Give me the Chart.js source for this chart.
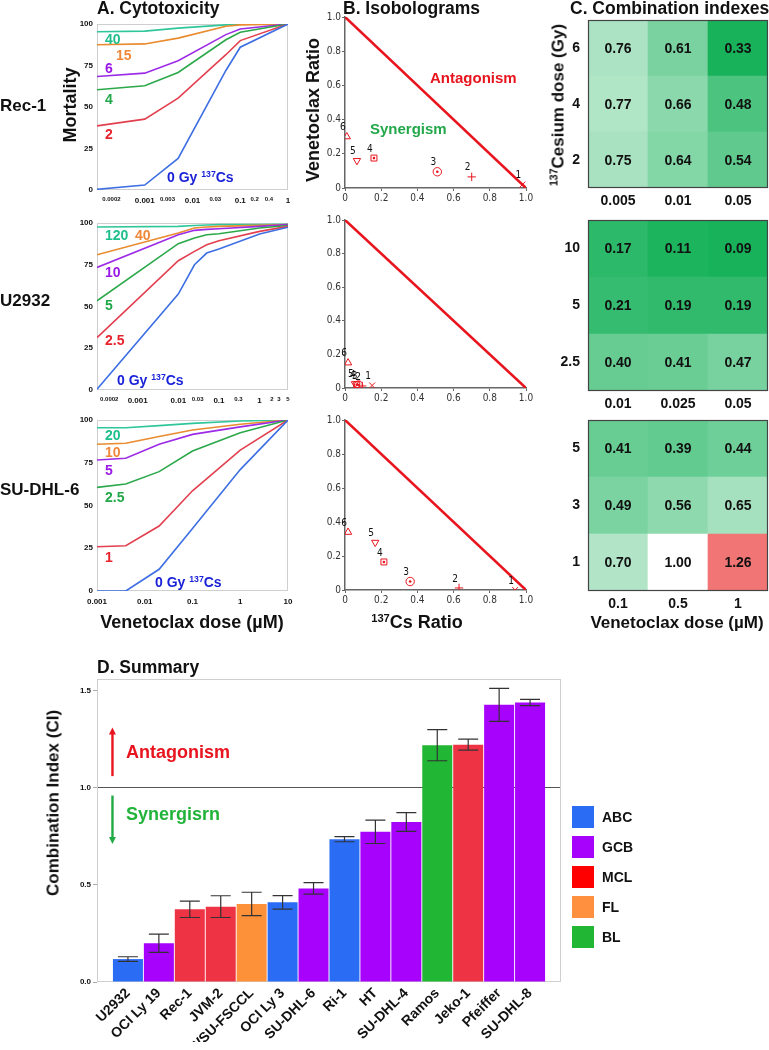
<!DOCTYPE html>
<html>
<head>
<meta charset="utf-8">
<script src="https://cdn.jsdelivr.net/npm/chart.js@4.4.1/dist/chart.umd.min.js"></script>
<style>
  body { margin: 0; background: #fff; }
  #page { position: relative; width: 769px; height: 1050px; overflow: hidden;
          font-family: 'Liberation Sans', Arial, sans-serif; font-weight: bold; color: #111; }
  canvas { position: absolute; left: 0; top: 0; }
  .t { position: absolute; white-space: nowrap; line-height: 1; z-index: 10; }
  .rot { transform: translate(-50%, -50%) rotate(-90deg); }
  .ctr { transform: translate(-50%, -50%); }
  .h16 { font-size: 17.5px; }
  .h17 { font-size: 17px; }
  .h18 { font-size: 18px; }
  .lb { font-size: 14px; }
  sup { font-size: 0.62em; vertical-align: 0.55em; line-height: 0; }
  .sw { position: absolute; width: 22px; height: 22px; z-index: 10; }
</style>
</head>
<body>
<div id="page">
  <!-- panel titles -->
  <div class="t h16" style="left:97px;top:0px">A. Cytotoxicity</div>
  <div class="t h16" style="left:343px;top:0px">B. Isobolograms</div>
  <div class="t h16" style="left:570px;top:0px">C. Combination indexes</div>
  <div class="t h16" style="left:97px;top:659px">D. Summary</div>

  <!-- row labels -->
  <div class="t h17" style="left:0px;top:97px">Rec-1</div>
  <div class="t h17" style="left:0px;top:292px">U2932</div>
  <div class="t h17" style="left:0px;top:481px">SU-DHL-6</div>

  <!-- axis titles -->
  <div class="t h18 rot" style="left:70px;top:105px">Mortality</div>
  <div class="t h18 rot" style="left:313px;top:110px">Venetoclax Ratio</div>
  <div class="t h17 rot" style="left:558px;top:105px"><sup>137</sup>Cesium dose (Gy)</div>
  <div class="t h18 ctr" style="left:192px;top:622px">Venetoclax dose (µM)</div>
  <div class="t h18 ctr" style="left:417px;top:622px"><sup>137</sup>Cs Ratio</div>
  <div class="t h17 ctr" style="left:677px;top:622px">Venetoclax dose (µM)</div>
  <div class="t h17 rot" style="left:53px;top:803px">Combination Index (CI)</div>

  <!-- isobologram region labels -->
  <div class="t" style="left:430px;top:70px;font-size:15px;color:#e8141e">Antagonism</div>
  <div class="t" style="left:370px;top:121px;font-size:15px;color:#22a84a">Synergism</div>

  <!-- summary region labels -->
  <div class="t h18" style="left:126px;top:743px;color:#e8141e">Antagonism</div>
  <div class="t h18" style="left:126px;top:805px;color:#22b33a">Synergisrn</div>

  <!-- cytotoxicity line labels, Rec-1 -->
  <div class="t lb" style="left:105px;top:32px;color:#1fbf8c">40</div>
  <div class="t lb" style="left:116px;top:48px;color:#f0883a">15</div>
  <div class="t lb" style="left:105px;top:61px;color:#9b19e6">6</div>
  <div class="t lb" style="left:105px;top:92px;color:#22a84a">4</div>
  <div class="t lb" style="left:105px;top:127px;color:#e8232e">2</div>
  <div class="t lb" style="left:167px;top:170px;color:#1a22d8">0 Gy <sup>137</sup>Cs</div>
  <!-- U2932 -->
  <div class="t lb" style="left:105px;top:228px;color:#1fbf8c">120</div>
  <div class="t lb" style="left:135px;top:228px;color:#f0883a">40</div>
  <div class="t lb" style="left:105px;top:265px;color:#9b19e6">10</div>
  <div class="t lb" style="left:105px;top:298px;color:#22a84a">5</div>
  <div class="t lb" style="left:105px;top:333px;color:#e8232e">2.5</div>
  <div class="t lb" style="left:117px;top:373px;color:#1a22d8">0 Gy <sup>137</sup>Cs</div>
  <!-- SU-DHL-6 -->
  <div class="t lb" style="left:105px;top:428px;color:#1fbf8c">20</div>
  <div class="t lb" style="left:105px;top:445px;color:#f0883a">10</div>
  <div class="t lb" style="left:105px;top:463px;color:#9b19e6">5</div>
  <div class="t lb" style="left:105px;top:490px;color:#22a84a">2.5</div>
  <div class="t lb" style="left:105px;top:550px;color:#e8232e">1</div>
  <div class="t lb" style="left:155px;top:575px;color:#1a22d8">0 Gy <sup>137</sup>Cs</div>

  <!-- summary legend -->
  <div class="sw" style="left:572px;top:806px;background:#2b6cf5"></div>
  <div class="t lb" style="left:602px;top:810px">ABC</div>
  <div class="sw" style="left:572px;top:836px;background:#a602fc"></div>
  <div class="t lb" style="left:602px;top:840px">GCB</div>
  <div class="sw" style="left:572px;top:866px;background:#ff0000"></div>
  <div class="t lb" style="left:602px;top:870px">MCL</div>
  <div class="sw" style="left:572px;top:896px;background:#ff9040"></div>
  <div class="t lb" style="left:602px;top:900px">FL</div>
  <div class="sw" style="left:572px;top:926px;background:#21b634"></div>
  <div class="t lb" style="left:602px;top:930px">BL</div>
</div>

<script>
// ─── Data ─────────────────────────────────────────────────────────────────

// A. Cytotoxicity: venetoclax dose (µM) vs mortality (%), one line per Cs dose
const rec1Doses = [0.0001, 0.001, 0.005, 0.05, 0.1, 1];
const rec1CsGy = ['0', '2', '4', '6', '15', '40'];
const rec1Mortality = [
    [0.4, 3, 19, 72, 86, 100],
    [38.6, 42.7, 55.3, 81.5, 90, 100],
    [60.4, 62.8, 70.8, 90.5, 95, 100],
    [68.4, 70.4, 77.9, 93.6, 97, 100],
    [87.5, 88, 91.5, 98.6, 99.5, 100],
    [95.3, 95.7, 97.5, 99.5, 100, 100]
];
const rec1TickVals = [0.0002, 0.001, 0.003, 0.01, 0.03, 0.1, 0.2, 0.4, 1];

const u2932Doses = [0.0001, 0.01, 0.025, 0.05, 0.1, 1, 5];
const u2932CsGy = ['0', '2.5', '5', '10', '40', '120'];
const u2932Mortality = [
    [0.4, 57.4, 75, 82, 84.4, 93.4, 97.5],
    [31.4, 77.4, 83, 87, 89.4, 95, 98],
    [53.4, 87.6, 91, 93, 93.6, 97, 98.5],
    [73.4, 93, 95.6, 96.2, 96.6, 98, 99],
    [81, 94, 97, 97.6, 98, 98.6, 99],
    [97.6, 98, 98.5, 98.8, 99, 99, 99.2]
];
const u2932TickVals = [0.0002, 0.001, 0.01, 0.03, 0.1, 0.3, 1, 2, 3, 5];

const suDhl6Doses = [0.001, 0.004, 0.02, 0.1, 1, 10];
const suDhl6CsGy = ['0', '1', '2.5', '5', '10', '20'];
const suDhl6Mortality = [
    [0, 0, 12.7, 36.6, 71, 100],
    [25.9, 26.5, 38, 58.6, 82.4, 100],
    [60.6, 62.6, 69.8, 81.9, 92.6, 100],
    [76.6, 77.6, 85.8, 91.6, 96, 100],
    [85.8, 86.4, 90.3, 94.2, 97.5, 100],
    [95.5, 95.5, 96.7, 98, 99.4, 100]
];
const suDhl6TickVals = [0.001, 0.01, 0.1, 1, 10];

const decadeTicks = [0.001, 0.01, 0.1, 1, 10];
const mortalityTicks = [0, 25, 50, 75, 100];

// B. Isobolograms: points 1..6 (Cs ratio, venetoclax ratio)
const rec1IsoCs = [0.98, 0.70, 0.51, 0.16, 0.066, 0.01];
const rec1IsoVen = [0.02, 0.065, 0.095, 0.175, 0.16, 0.30];
const u2932IsoCs = [0.15, 0.095, 0.075, 0.065, 0.055, 0.017];
const u2932IsoVen = [0.015, 0.012, 0.018, 0.02, 0.025, 0.15];
const suDhl6IsoCs = [0.94, 0.63, 0.36, 0.215, 0.167, 0.017];
const suDhl6IsoVen = [0.0, 0.012, 0.05, 0.165, 0.28, 0.34];
const additivityCs = [0, 1];
const additivityVen = [1, 0];
const ratioTicks = [0, 0.2, 0.4, 0.6, 0.8, 1];

// C. Combination indexes (rows bottom to top)
const rec1CiRows = ['2', '4', '6'];
const rec1CiCols = ['0.005', '0.01', '0.05'];
const rec1CI = [[0.75, 0.64, 0.54], [0.77, 0.66, 0.48], [0.76, 0.61, 0.33]];
const u2932CiRows = ['2.5', '5', '10'];
const u2932CiCols = ['0.01', '0.025', '0.05'];
const u2932CI = [[0.40, 0.41, 0.47], [0.21, 0.19, 0.19], [0.17, 0.11, 0.09]];
const suDhl6CiRows = ['1', '3', '5'];
const suDhl6CiCols = ['0.1', '0.5', '1'];
const suDhl6CI = [[0.70, 1.00, 1.26], [0.49, 0.56, 0.65], [0.41, 0.39, 0.44]];

// D. Summary
const cellLines = ['U2932', 'OCI Ly 19', 'Rec-1', 'JVM-2', 'WSU-FSCCL', 'OCI Ly 3', 'SU-DHL-6',
                   'Ri-1', 'HT', 'SU-DHL-4', 'Ramos', 'Jeko-1', 'Pfeiffer', 'SU-DHL-8'];
const ciMeans = [0.118, 0.20, 0.374, 0.388, 0.402, 0.41, 0.482, 0.735, 0.773, 0.824, 1.219, 1.222, 1.427, 1.439];
const ciErrors = [0.012, 0.047, 0.042, 0.056, 0.06, 0.035, 0.03, 0.013, 0.06, 0.048, 0.08, 0.028, 0.085, 0.016];
const subtypes = ['ABC', 'GCB', 'MCL', 'MCL', 'FL', 'ABC', 'GCB', 'ABC', 'GCB', 'GCB', 'BL', 'MCL', 'GCB', 'GCB'];
const summaryTicks = [0, 0.5, 1, 1.5];
const antagonismArrow = [1.06, 1.31];
const synergismArrow = [0.96, 0.71];

// ─── Styles ───────────────────────────────────────────────────────────────

const W = 769, H = 1050;
const FONT = "'Liberation Sans', Arial, sans-serif";
const NARROW = "'Liberation Sans Narrow', 'DejaVu Sans Condensed', sans-serif";
const lineColors = ['#3d6fe3', '#e2404f', '#2ba84a', '#9c2be6', '#e98b2e', '#2fc79a'];
const subtypeColors = { ABC: '#2b6cf5', GCB: '#a602fc', MCL: '#ee3345', FL: '#fd913a', BL: '#21b634' };
const isoStyles = ['crossRot', 'cross', 'circle', 'rect', 'triangle', 'triangle'];
const isoRotation = [0, 0, 0, 0, 180, 0];
const isoDotted = [2, 3];   // circle and square markers carry a centre dot
const RED = '#e8141e';

Chart.defaults.font.family = FONT;
Chart.defaults.color = '#111';
Chart.defaults.animation = false;
Chart.defaults.responsive = false;
Chart.defaults.devicePixelRatio = 1;
Chart.defaults.plugins.legend.display = false;
Chart.defaults.plugins.tooltip.enabled = false;

function layer() {
    const c = document.createElement('canvas');
    c.width = W;
    c.height = H;
    document.getElementById('page').appendChild(c);
    return c;
}

// padding that puts the chart area at [L,R] x [T,B] given fixed axis sizes
function pad(L, T, R, B, yw, xh) {
    return { left: L - yw, top: T, right: W - R, bottom: H - B - xh };
}

function framePlugin(color, width, onTop) {
    const draw = (chart) => {
        const { ctx, chartArea: a } = chart;
        ctx.save();
        ctx.strokeStyle = color;
        ctx.lineWidth = width;
        ctx.strokeRect(a.left + 0.5, a.top + 0.5, a.right - a.left - 1, a.bottom - a.top - 1);
        ctx.restore();
    };
    return onTop ? { id: 'frame', afterDatasetsDraw: draw } : { id: 'frame', beforeDatasetsDraw: draw };
}

// ─── A. Cytotoxicity ──────────────────────────────────────────────────────

function cytoChart(T, B, doses, mortality, xMin, xMax, tickVals) {
    return new Chart(layer(), {
        type: 'line',
        data: {
            datasets: mortality.map((ys, i) => ({
                data: ys.map((y, j) => ({ x: doses[j], y })),
                borderColor: lineColors[i],
                borderWidth: 1.6,
                pointRadius: 0,
                tension: 0,
                fill: false
            }))
        },
        options: {
            layout: { padding: pad(97, T, 288, B, 30, 22) },
            scales: {
                x: {
                    type: 'logarithmic', min: xMin, max: xMax,
                    afterBuildTicks: s => { s.ticks = tickVals.map(v => ({ value: v })); },
                    afterFit: s => { s.height = 22; },
                    grid: { display: false, drawTicks: false },
                    border: { display: false },
                    ticks: {
                        autoSkip: false, maxRotation: 0, padding: 6, color: '#111',
                        font: c => ({ size: c.tick && decadeTicks.includes(c.tick.value) ? 8 : 6, weight: 'bold' }),
                        callback: v => String(v)
                    }
                },
                y: {
                    min: 0, max: 100,
                    afterBuildTicks: s => { s.ticks = mortalityTicks.map(v => ({ value: v })); },
                    afterFit: s => { s.width = 30; },
                    grid: { display: false, drawTicks: false },
                    border: { display: false },
                    ticks: { padding: 4, color: '#111', font: { size: 8, weight: 'bold' } }
                }
            }
        },
        plugins: [framePlugin('#cfcfcf', 1, false)]
    });
}

cytoChart(24, 190, rec1Doses, rec1Mortality, 0.0001, 1, rec1TickVals);
cytoChart(223, 390, u2932Doses, u2932Mortality, 0.0001, 5, u2932TickVals);
cytoChart(420, 591, suDhl6Doses, suDhl6Mortality, 0.001, 10, suDhl6TickVals);

// ─── B. Isobolograms ──────────────────────────────────────────────────────

const pointNumbers = {
    id: 'pointNumbers',
    afterDatasetsDraw(chart) {
        const { ctx } = chart;
        const meta = chart.getDatasetMeta(1);
        ctx.save();
        ctx.font = '10px ' + NARROW;
        ctx.fillStyle = '#111';
        ctx.textAlign = 'center';
        ctx.textBaseline = 'bottom';
        meta.data.forEach((p, i) => ctx.fillText(String(i + 1), p.x - 4, p.y - 4));
        ctx.fillStyle = RED;
        isoDotted.forEach(i => {
            const p = meta.data[i];
            ctx.beginPath();
            ctx.arc(p.x, p.y, 1.3, 0, Math.PI * 2);
            ctx.fill();
        });
        ctx.restore();
    }
};

function isoChart(T, B, cs, ven) {
    const axis = (isX) => ({
        type: 'linear', min: 0, max: 1,
        afterBuildTicks: s => { s.ticks = ratioTicks.map(v => ({ value: v })); },
        afterFit: s => { if (isX) s.height = 20; else s.width = 30; },
        grid: { drawOnChartArea: false, tickLength: 3, color: '#666' },
        border: { color: '#666', width: 1.5 },
        ticks: {
            padding: 1, color: '#333', font: { family: NARROW, size: 10 },
            callback: v => (v === 0 ? '0' : v.toFixed(1))
        }
    });
    return new Chart(layer(), {
        type: 'scatter',
        data: {
            datasets: [
                {
                    type: 'line',
                    data: additivityCs.map((x, i) => ({ x, y: additivityVen[i] })),
                    borderColor: RED, borderWidth: 2.6, pointRadius: 0
                },
                {
                    data: cs.map((x, i) => ({ x, y: ven[i] })),
                    pointStyle: isoStyles, rotation: isoRotation,
                    pointRadius: 4.2, borderWidth: 1,
                    borderColor: RED, backgroundColor: 'rgba(0,0,0,0)'
                }
            ]
        },
        options: {
            layout: { padding: pad(345, T, 526, B, 30, 20) },
            scales: { x: axis(true), y: axis(false) }
        },
        plugins: [pointNumbers]
    });
}

isoChart(17, 188, rec1IsoCs, rec1IsoVen);
isoChart(220, 388, u2932IsoCs, u2932IsoVen);
isoChart(420, 590, suDhl6IsoCs, suDhl6IsoVen);

// ─── C. Combination index heatmaps ────────────────────────────────────────

function ciColor(v, floor) {
    const mix = (c, t) => 'rgb(' + c.map(k => Math.round(255 + (k - 255) * t)).join(',') + ')';
    if (v > 1) return mix([240, 96, 96], Math.min(1, (v - 1) / 0.3));
    return mix([24, 178, 90], Math.max(0, Math.min(1, (1 - v) / (1 - floor))));
}

function cellTextPlugin(ci) {
    return {
        id: 'cellText',
        afterDatasetsDraw(chart) {
            const { ctx } = chart;
            ctx.save();
            ctx.font = 'bold 14px ' + FONT;
            ctx.fillStyle = '#111';
            ctx.textAlign = 'center';
            ctx.textBaseline = 'middle';
            ci.forEach((row, i) => {
                chart.getDatasetMeta(i).data.forEach((el, j) => {
                    ctx.fillText(row[j].toFixed(2), el.x, (el.y + el.base) / 2 + 1);
                });
            });
            ctx.restore();
        }
    };
}

function heatChart(T, B, rows, cols, ci, floor) {
    return new Chart(layer(), {
        type: 'bar',
        data: {
            labels: cols,
            datasets: rows.map((r, i) => ({
                label: r,
                data: cols.map(() => 1),
                backgroundColor: ci[i].map(v => ciColor(v, floor)),
                borderWidth: 0,
                barPercentage: 1,
                categoryPercentage: 1
            }))
        },
        options: {
            layout: { padding: pad(588, T, 768, B, 30, 20) },
            scales: {
                x: {
                    stacked: true,
                    afterFit: s => { s.height = 20; },
                    grid: { display: false, drawTicks: false },
                    border: { display: false },
                    ticks: { padding: 5, color: '#111', font: { size: 14, weight: 'bold' } }
                },
                y: {
                    stacked: true, min: 0, max: rows.length,
                    afterBuildTicks: s => { s.ticks = rows.map((_, i) => ({ value: i + 0.5 })); },
                    afterFit: s => { s.width = 30; },
                    grid: { display: false, drawTicks: false },
                    border: { display: false },
                    ticks: {
                        padding: 8, color: '#111', font: { size: 14, weight: 'bold' },
                        callback: v => rows[Math.floor(v)]
                    }
                }
            }
        },
        plugins: [cellTextPlugin(ci), framePlugin('#444', 1.2, true)]
    });
}

heatChart(20, 188, rec1CiRows, rec1CiCols, rec1CI, 0.33);
heatChart(220, 391, u2932CiRows, u2932CiCols, u2932CI, 0.09);
heatChart(420, 591, suDhl6CiRows, suDhl6CiCols, suDhl6CI, 0.1);

// ─── D. Summary bar chart ─────────────────────────────────────────────────

const errorBars = {
    id: 'errorBars',
    afterDatasetsDraw(chart) {
        const { ctx, scales: { x, y } } = chart;
        const meta = chart.getDatasetMeta(0);
        ctx.save();
        ctx.strokeStyle = '#333';
        ctx.lineWidth = 1.2;
        meta.data.forEach((bar, i) => {
            const hi = y.getPixelForValue(ciMeans[i] + ciErrors[i]);
            const lo = y.getPixelForValue(ciMeans[i] - ciErrors[i]);
            ctx.beginPath();
            ctx.moveTo(bar.x, hi); ctx.lineTo(bar.x, lo);
            ctx.moveTo(bar.x - 10, hi); ctx.lineTo(bar.x + 10, hi);
            ctx.moveTo(bar.x - 10, lo); ctx.lineTo(bar.x + 10, lo);
            ctx.stroke();
        });

        // antagonism / synergism arrows
        const ax = x.getPixelForValue(-0.5);
        const arrow = (from, to, color) => {
            const y0 = y.getPixelForValue(from), y1 = y.getPixelForValue(to);
            const dir = y1 < y0 ? -1 : 1;
            ctx.strokeStyle = color;
            ctx.fillStyle = color;
            ctx.lineWidth = 2.4;
            ctx.beginPath();
            ctx.moveTo(ax, y0); ctx.lineTo(ax, y1 - dir * 5);
            ctx.stroke();
            ctx.beginPath();
            ctx.moveTo(ax, y1);
            ctx.lineTo(ax - 3.5, y1 - dir * 7);
            ctx.lineTo(ax + 3.5, y1 - dir * 7);
            ctx.closePath();
            ctx.fill();
        };
        arrow(antagonismArrow[0], antagonismArrow[1], RED);
        arrow(synergismArrow[0], synergismArrow[1], '#22aa44');
        ctx.restore();
    }
};

new Chart(layer(), {
    type: 'bar',
    data: {
        datasets: [{
            data: ciMeans.map((y, i) => ({ x: i, y })),
            backgroundColor: subtypes.map(s => subtypeColors[s]),
            borderWidth: 0,
            barPercentage: 0.97,
            categoryPercentage: 1
        }]
    },
    options: {
        layout: { padding: pad(97, 679, 561, 982, 40, 60) },
        scales: {
            x: {
                type: 'linear', min: -1, max: 14, offset: false,
                afterBuildTicks: s => { s.ticks = cellLines.map((_, i) => ({ value: i })); },
                afterFit: s => { s.height = 60; },
                grid: { display: false, drawTicks: false, offset: false },
                border: { display: false },
                ticks: {
                    autoSkip: false, minRotation: 45, maxRotation: 45, padding: 3,
                    color: '#111', font: { size: 14, weight: 'bold' },
                    callback: v => cellLines[v] || ''
                }
            },
            y: {
                min: 0, max: 1.56,
                afterBuildTicks: s => { s.ticks = summaryTicks.map(v => ({ value: v })); },
                afterFit: s => { s.width = 40; },
                grid: {
                    color: c => (c.tick && c.tick.value === 1 ? '#555' : 'rgba(0,0,0,0)'),
                    tickColor: '#aaa', tickLength: 4, lineWidth: 1
                },
                border: { display: false },
                ticks: {
                    padding: 2, color: '#111', font: { size: 8, weight: 'bold' },
                    callback: v => v.toFixed(1)
                }
            }
        }
    },
    plugins: [framePlugin('#cfcfcf', 1, false), errorBars]
});
</script>
</body>
</html>
